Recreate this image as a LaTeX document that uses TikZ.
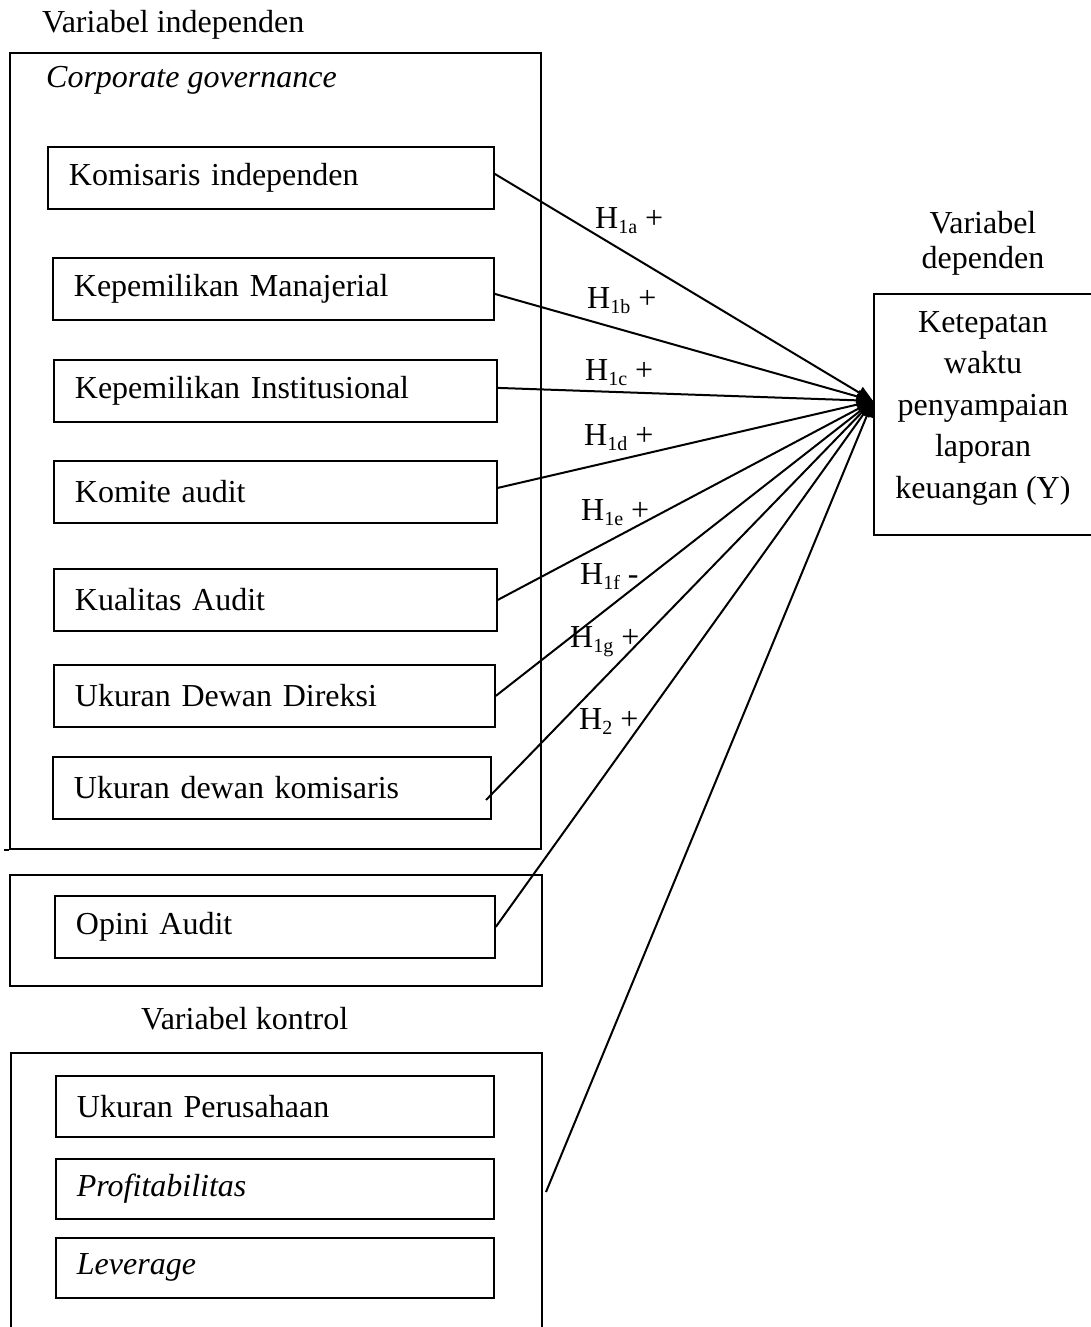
\documentclass[tikz,border=0pt]{standalone}
\usepackage{fontspec}
\setmainfont{Liberation Serif}
\usetikzlibrary{arrows.meta}
\newcommand\hsub[1]{\raisebox{-5pt}{\fontsize{20}{20}\selectfont #1}}
\begin{document}
\begin{tikzpicture}[x=1pt,y=-1pt,
  every node/.style={font=\fontsize{32}{41.5}\selectfont, inner sep=0pt},
  varbox/.style={draw, line width=1.8pt, minimum height=62pt, text width=#1, inner xsep=21pt, align=left, anchor=north west},
  groupbox/.style={draw, line width=1.8pt, anchor=north west},
  conn/.style={line width=2pt, -{Triangle[length=16pt,width=13pt]}},
  hlabel/.style={anchor=base west},
  title/.style={anchor=base west}]
\useasboundingbox (0,0) rectangle (1091,1327);

% group boxes
\node[groupbox, minimum width=531pt, minimum height=796pt] (cg) at (9,52) {};
\node[groupbox, minimum width=532pt, minimum height=111pt] (og) at (9,874) {};
\node[groupbox, minimum width=531pt, minimum height=290pt] (ctl) at (10,1052) {};
\draw[line width=1.8pt] (cg.south west) -- ++(-5,0);

% titles
\node[title] (tind) at (42,33) {Variabel independen};
\node[title] (tcg) at (46,88) {\itshape Corporate governance};
\node[title] (tkon) at (141,1029) {Variabel kontrol};
\node[align=center, font=\fontsize{32}{35}\selectfont] (tdep) at (983,243) {Variabel\\dependen};

% variable boxes
\node[varbox=404pt] (kom) at (47,146) {Komisaris independen};
\node[varbox=399pt] (man) at (52,257) {Kepemilikan Manajerial};
\node[varbox=401pt] (ins) at (53,359) {Kepemilikan Institusional};
\node[varbox=401pt] (kmt) at (53,460) {Komite audit};
\node[varbox=401pt] (kua) at (53,568) {Kualitas Audit};
\node[varbox=399pt] (dir) at (53,664) {Ukuran Dewan Direksi};
\node[varbox=396pt] (dkm) at (52,756) {Ukuran dewan komisaris};
\node[varbox=398pt] (opi) at (54,895) {Opini Audit};
\node[varbox=396pt, minimum height=61pt] (ukp) at (55,1075) {Ukuran Perusahaan};
\node[varbox=396pt, minimum height=60pt] (pro) at (55,1158) {\itshape Profitabilitas};
\node[varbox=396pt, minimum height=60pt] (lev) at (55,1237) {\itshape Leverage};

% dependent box
\node[draw, line width=1.8pt, anchor=north west, minimum width=222pt, minimum height=241pt] (dep) at (873,293) {};
\node[align=center] (deptext) at (983,408) {Ketepatan\\waktu\\penyampaian\\laporan\\keuangan (Y)};

% connectors
\coordinate (tip) at ([yshift=13.5pt]dep.west);
\coordinate (dkmout) at (486,800);
\coordinate (ctlout) at (546,1192);
\draw[conn] ([yshift=4pt]kom.east) -- (tip);
\draw[conn] ([yshift=-5pt]man.east) -- (tip);
\draw[conn] ([yshift=3pt]ins.east) -- (tip);
\draw[conn] ([yshift=4pt]kmt.east) -- (tip);
\draw[conn] (kua.east) -- (tip);
\draw[conn] (dir.east) -- (tip);
\draw[conn] (dkmout) -- (tip);
\draw[conn] (opi.east) -- (tip);
\draw[conn] (ctlout) -- (tip);

% hypothesis labels
\node[hlabel] (h1a) at (595,228) {H\hsub{1a} +};
\node[hlabel] (h1b) at (587,308) {H\hsub{1b} +};
\node[hlabel] (h1c) at (585,380) {H\hsub{1c} +};
\node[hlabel] (h1d) at (584,445) {H\hsub{1d} +};
\node[hlabel] (h1e) at (581,520) {H\hsub{1e} +};
\node[hlabel] (h1f) at (580,584) {H\hsub{1f} -};
\node[hlabel] (h1g) at (570,647) {H\hsub{1g} +};
\node[hlabel] (h2) at (579,729) {H\hsub{2} +};
\end{tikzpicture}
\end{document}
